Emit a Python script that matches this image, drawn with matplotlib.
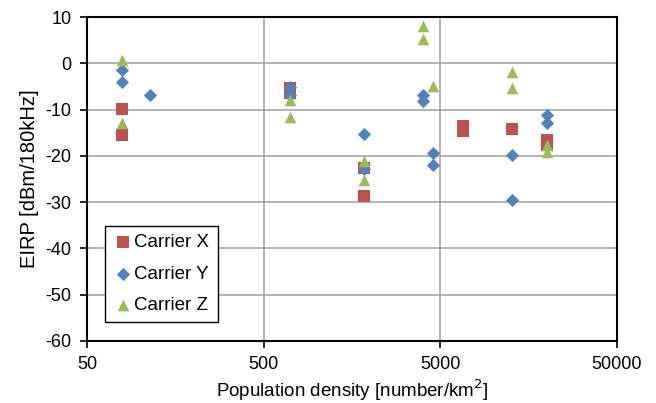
import numpy as np
import matplotlib.pyplot as plt

plt.rcParams['font.family'] = ['Liberation Sans', 'DejaVu Sans']
plt.rcParams['axes.unicode_minus'] = False

# data
carrier_x_x = [79, 79, 707, 707, 1854, 1854, 6744, 6744, 12770, 20050, 20050]
carrier_x_y = [-9.9, -15.6, -5.4, -6.4, -22.7, -28.6, -13.6, -14.6, -14.2, -16.6, -17.6]
carrier_y_x = [79, 79, 114, 707, 707, 1854, 1854, 3970, 3970, 4520, 4520, 12770, 12770, 20050, 20050]
carrier_y_y = [-1.5, -4.1, -6.8, -5.2, -6.8, -15.3, -22.8, -6.8, -8.1, -19.4, -22.0, -19.8, -29.5, -11.2, -12.8]
carrier_z_x = [79, 79, 707, 707, 1854, 1854, 3970, 3970, 4520, 12770, 12770, 20050, 20050]
carrier_z_y = [0.7, -13.0, -7.9, -11.7, -21.1, -25.3, 8.1, 5.2, -5.0, -1.8, -5.3, -17.7, -19.1]

fig = plt.figure(figsize=(6.56, 4.03), dpi=100)
ax = fig.add_axes([87/656, 1 - 341/403, (617-87)/656, (341-17)/403])

ax.scatter(carrier_x_x, carrier_x_y, marker='s', s=70, color='#C0504D', label='Carrier X', zorder=3, linewidths=0)
ax.scatter(carrier_y_x, carrier_y_y, marker='D', s=45, color='#4F81BD', label='Carrier Y', zorder=3, linewidths=0)
ax.scatter(carrier_z_x, carrier_z_y, marker='^', s=70, color='#9BBB59', label='Carrier Z', zorder=3, linewidths=0)

ax.set_xscale('log')
ax.set_xlim(50, 50000)
ax.set_ylim(-60, 10)
ax.set_xticks([50, 500, 5000, 50000])
ax.set_xticklabels(['50', '500', '5000', '50000'])
ax.xaxis.set_minor_locator(plt.NullLocator())
ax.set_yticks(np.arange(-60, 11, 10))

ax.grid(True, color='#A6A6A6', linewidth=1.2)
ax.set_axisbelow(True)
for s in ax.spines.values():
    s.set_linewidth(1.5)
    s.set_color('black')
ax.tick_params(direction='out', length=5, width=1.2, labelsize=13, pad=6)

ax.set_xlabel('Population density [number/km$^2$]', fontsize=13.5, labelpad=3)
ax.set_ylabel('EIRP [dBm/180kHz]', fontsize=14.5, labelpad=5)

leg = ax.legend(loc='lower left', bbox_to_anchor=(0.034, 0.058), fontsize=13.5,
                fancybox=False, edgecolor='black', framealpha=1,
                handletextpad=0.1, borderpad=0.45, labelspacing=0.75, handlelength=1.0,
                borderaxespad=0)
leg.get_frame().set_linewidth(1.0)

fig.savefig('out.png', dpi=100)
